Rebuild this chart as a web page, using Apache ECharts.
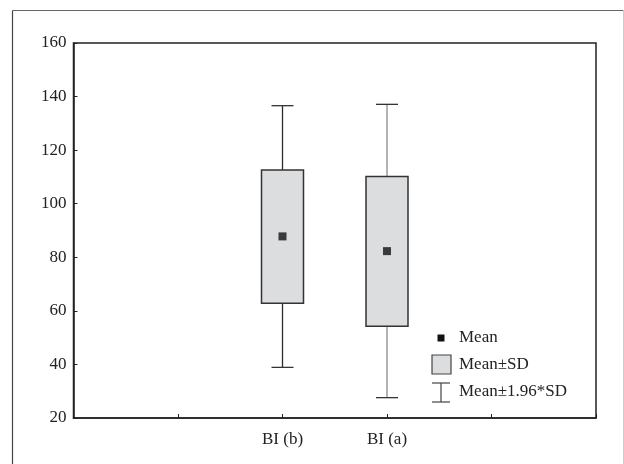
<!DOCTYPE html>
<html>
<head>
<meta charset="utf-8">
<script src="https://cdn.jsdelivr.net/npm/echarts@6/dist/echarts.min.js"></script>
<style>
  html, body { margin: 0; padding: 0; background: #fff; }
  #main { width: 624px; height: 464px; }
</style>
</head>
<body>
<div id="main"></div>
<script>
// x axis slots; only two of them carry a group
var categories = ['', '', 'BI (b)', 'BI (a)', '', ''];
var groups = ['BI (b)', 'BI (a)'];
var meanVals = [87.8, 82.3];
var sdLow = [62.8, 54.3];
var sdHigh = [112.6, 110.2];
var ciLow = [38.9, 27.6];
var ciHigh = [136.6, 137.1];
var yMin = 20, yMax = 160, yStep = 20;

var legendLabels = ['Mean', 'Mean\u00b1SD', 'Mean\u00b11.96*SD'];

var FONT = 'Liberation Serif';
var FSIZE = 17;
var whiskerColor = { 'BI (b)': '#2a2a2a', 'BI (a)': '#8a8a8a' };

var chart = echarts.init(document.getElementById('main'));

var boxData = groups.map(function (g, i) {
    return [categories.indexOf(g), ciLow[i], sdLow[i], sdHigh[i], ciHigh[i]];
});
var meanData = groups.map(function (g, i) {
    return [categories.indexOf(g), meanVals[i]];
});

function renderBox(params, api) {
    var x = api.value(0);
    var pLow = api.coord([x, api.value(1)]);
    var pQ1 = api.coord([x, api.value(2)]);
    var pQ3 = api.coord([x, api.value(3)]);
    var pHigh = api.coord([x, api.value(4)]);
    var cx = pLow[0];
    var bw = 42, cw = 22;
    var wc = whiskerColor[groups[params.dataIndex]];
    return {
        type: 'group',
        children: [
            { type: 'line', shape: { x1: cx, y1: pHigh[1], x2: cx, y2: pQ3[1] },
              style: { stroke: wc, lineWidth: 1.3 } },
            { type: 'line', shape: { x1: cx, y1: pQ1[1], x2: cx, y2: pLow[1] },
              style: { stroke: wc, lineWidth: 1.3 } },
            { type: 'line', shape: { x1: cx - cw / 2, y1: pHigh[1], x2: cx + cw / 2, y2: pHigh[1] },
              style: { stroke: '#333', lineWidth: 1.3 } },
            { type: 'line', shape: { x1: cx - cw / 2, y1: pLow[1], x2: cx + cw / 2, y2: pLow[1] },
              style: { stroke: '#333', lineWidth: 1.3 } },
            { type: 'rect', shape: { x: cx - bw / 2, y: pQ3[1], width: bw, height: pQ1[1] - pQ3[1] },
              style: { fill: '#dcdddf', stroke: '#333', lineWidth: 1.5 } }
        ]
    };
}

// legend drawn by hand, it sits inside the plot
var lx = 432, ly = 338;
var legendGraphics = [
    { type: 'rect', shape: { x: lx + 5.5, y: ly - 3.5, width: 7, height: 7 }, style: { fill: '#111' } },
    { type: 'rect', shape: { x: lx, y: ly + 17, width: 19, height: 19 },
      style: { fill: '#dcdddf', stroke: '#444', lineWidth: 1.2 } },
    { type: 'line', shape: { x1: lx, y1: ly + 45, x2: lx + 18, y2: ly + 45 }, style: { stroke: '#444', lineWidth: 1.2 } },
    { type: 'line', shape: { x1: lx, y1: ly + 64, x2: lx + 18, y2: ly + 64 }, style: { stroke: '#444', lineWidth: 1.2 } },
    { type: 'line', shape: { x1: lx + 9, y1: ly + 45, x2: lx + 9, y2: ly + 64 }, style: { stroke: '#444', lineWidth: 1.2 } }
];
legendLabels.forEach(function (t, i) {
    legendGraphics.push({
        type: 'text', x: lx + 27, y: ly + i * 27,
        style: { text: t, font: FSIZE + 'px "' + FONT + '"', fill: '#222', verticalAlign: 'middle' }
    });
});
// outer frame
legendGraphics.push(
    { type: 'line', shape: { x1: 12.5, y1: 10.5, x2: 623.5, y2: 10.5 }, style: { stroke: '#666', lineWidth: 1 } },
    { type: 'line', shape: { x1: 12.5, y1: 10.5, x2: 12.5, y2: 464 }, style: { stroke: '#444', lineWidth: 1.2 } },
    { type: 'line', shape: { x1: 623.5, y1: 10.5, x2: 623.5, y2: 464 }, style: { stroke: '#ccc', lineWidth: 1 } }
);

chart.setOption({
    backgroundColor: '#fff',
    animation: false,
    grid: {
        left: 73.5, right: 28, top: 43, bottom: 46,
        show: true, borderColor: '#222', borderWidth: 1.5
    },
    xAxis: {
        type: 'category',
        data: categories,
        boundaryGap: false,
        axisLine: { lineStyle: { color: '#222', width: 1.5 } },
        axisTick: { inside: true, length: 4, lineStyle: { color: '#222' } },
        axisLabel: { fontFamily: FONT, fontSize: FSIZE, color: '#222', margin: 13, interval: 0 },
        splitLine: { show: false }
    },
    yAxis: {
        type: 'value',
        min: yMin, max: yMax, interval: yStep,
        axisLine: { show: true, lineStyle: { color: '#222', width: 1.5 } },
        axisTick: { show: true, inside: true, length: 4, lineStyle: { color: '#222' } },
        axisLabel: { fontFamily: FONT, fontSize: FSIZE, color: '#222', margin: 7 },
        splitLine: { show: false }
    },
    series: [
        {
            type: 'custom',
            renderItem: renderBox,
            data: boxData,
            encode: { x: 0, y: [1, 2, 3, 4] },
            z: 2
        },
        {
            type: 'scatter',
            data: meanData,
            symbol: 'rect',
            symbolSize: 8,
            itemStyle: { color: '#111' },
            z: 3
        }
    ],
    graphic: legendGraphics
});
</script>
</body>
</html>
